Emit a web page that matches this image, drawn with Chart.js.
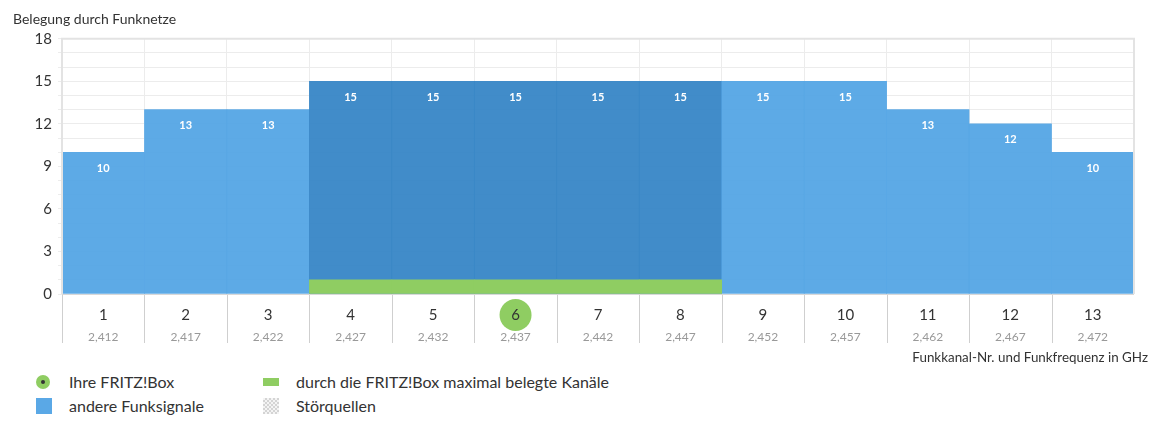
<!DOCTYPE html>
<html>
<head>
<meta charset="utf-8">
<script src="https://cdn.jsdelivr.net/npm/chart.js@4"></script>
<style>
  body { margin: 0; background: #fff; font-family: Lato, "Open Sans", sans-serif; color: #333; }
  #wrap { position: relative; width: 1162px; height: 424px; overflow: hidden; }
  #chartBox { position: absolute; left: 0; top: 0; width: 1162px; height: 360px; }
  #xTitle { position: absolute; right: 14px; top: 349px; font-size: 13.4px; color: #333; }
  .legend { position: absolute; top: 370px; font-size: 16px; color: #333; }
  .legend div { height: 24px; line-height: 24px; position: relative; padding-left: 33px; }
  .legend i { position: absolute; left: 0; }
  .dot { top: 5px; width: 14px; height: 14px; border-radius: 50%; background: #8fcd62; }
  .dot:after { content: ""; position: absolute; left: 5px; top: 5px; width: 4px; height: 4px; border-radius: 50%; background: #333; }
  .sq { top: 4px; width: 16px; height: 16px; background: #5aa8e6; }
  .band { top: 8px; width: 16px; height: 8px; background: #8fcd62; }
  .noise { top: 4px; width: 16px; height: 16px;
    background: repeating-conic-gradient(#d4d4d4 0 25%, #f4f4f4 0 50%) 0 0 / 4px 4px; }
</style>
</head>
<body>
<div id="wrap">
  <div id="chartBox"><canvas id="chart"></canvas></div>
  <div id="xTitle">Funkkanal-Nr. und Funkfrequenz in GHz</div>
  <div class="legend" style="left: 36px;">
    <div><i class="dot"></i>Ihre FRITZ!Box</div>
    <div><i class="sq"></i>andere Funksignale</div>
  </div>
  <div class="legend" style="left: 263px;">
    <div><i class="band"></i>durch die FRITZ!Box maximal belegte Kanäle</div>
    <div><i class="noise"></i>Störquellen</div>
  </div>
</div>
<script>
const channels = ["1", "2", "3", "4", "5", "6", "7", "8", "9", "10", "11", "12", "13"];
const frequencies = ["2,412", "2,417", "2,422", "2,427", "2,432", "2,437", "2,442", "2,447", "2,452", "2,457", "2,462", "2,467", "2,472"];
const otherSignals = [10, 13, 13, 15, 15, 15, 15, 15, 15, 15, 13, 12, 10];
const fritzBand = [null, null, null, 1, 1, 1, 1, 1, null, null, null, null, null];
const fritzChannel = "6";
const yMax = 18;
const yLabelStep = 3;

const LIGHT_BLUE = "rgba(84,165,229,0.95)";
const DARK_BLUE = "rgba(55,134,198,0.95)";
const GREEN = "#8fcd62";
const FONT = "Lato";

const fritzPlugin = {
  id: "fritz",
  beforeDraw(chart) {
    // green circle under the channel label of the FRITZ!Box
    const x = chart.scales.x;
    const ctx = chart.ctx;
    const idx = channels.indexOf(fritzChannel);
    const cx = x.getPixelForValue(idx);
    const cy = x.top + x.options.ticks.padding + x.options.ticks.font.size * 0.6;
    ctx.save();
    ctx.fillStyle = GREEN;
    ctx.beginPath();
    ctx.arc(cx, cy, 16, 0, Math.PI * 2);
    ctx.fill();
    ctx.restore();
  },
  afterDatasetsDraw(chart) {
    const ctx = chart.ctx;
    const meta = chart.getDatasetMeta(1);
    ctx.save();
    ctx.fillStyle = "#fff";
    ctx.font = "bold 11px " + FONT;
    ctx.textAlign = "center";
    ctx.textBaseline = "middle";
    meta.data.forEach((bar, i) => {
      ctx.fillText(otherSignals[i], bar.x, bar.y + 16);
    });
    ctx.restore();
  },
  afterDraw(chart) {
    const ctx = chart.ctx;
    const area = chart.chartArea;
    const x = chart.scales.x;
    const x2 = chart.scales.x2;
    ctx.save();
    // separators between channels below the plot
    ctx.strokeStyle = "#cfcfcf";
    ctx.lineWidth = 1;
    for (let i = 0; i < channels.length; i++) {
      const px = i === 0 ? x.left : (x.getPixelForValue(i - 1) + x.getPixelForValue(i)) / 2;
      ctx.beginPath();
      ctx.moveTo(Math.round(px) + 0.5, area.bottom);
      ctx.lineTo(Math.round(px) + 0.5, x2.bottom);
      ctx.stroke();
    }
    // frame round the plot
    ctx.strokeStyle = "#e3e3e3";
    ctx.lineWidth = 2;
    ctx.beginPath();
    ctx.moveTo(area.left, area.bottom);
    ctx.lineTo(area.left, area.top);
    ctx.lineTo(area.right, area.top);
    ctx.lineTo(area.right, area.bottom);
    ctx.stroke();
    ctx.strokeStyle = "#d8d8d8";
    ctx.lineWidth = 1;
    ctx.beginPath();
    ctx.moveTo(area.left, area.bottom + 0.5);
    ctx.lineTo(area.right, area.bottom + 0.5);
    ctx.stroke();
    ctx.restore();
  },
};

new Chart(document.getElementById("chart"), {
  type: "bar",
  data: {
    labels: channels,
    datasets: [
      {
        label: "durch die FRITZ!Box maximal belegte Kanäle",
        data: fritzBand,
        backgroundColor: GREEN,
        grouped: false,
        order: 0,
        barPercentage: 1,
        categoryPercentage: 1,
      },
      {
        label: "andere Funksignale",
        data: otherSignals,
        backgroundColor: (c) => (fritzBand[c.dataIndex] ? DARK_BLUE : LIGHT_BLUE),
        grouped: false,
        order: 1,
        barPercentage: 1,
        categoryPercentage: 1,
      },
    ],
  },
  plugins: [fritzPlugin],
  options: {
    responsive: true,
    maintainAspectRatio: false,
    animation: false,
    layout: { padding: { left: 13, right: 28, top: 0, bottom: 17 } },
    plugins: {
      legend: { display: false },
      tooltip: { enabled: false },
      title: {
        display: true,
        text: "Belegung durch Funknetze",
        align: "start",
        color: "#333",
        font: { family: FONT, size: 14, weight: "normal" },
        padding: { top: 11, bottom: 11 },
      },
    },
    scales: {
      y: {
        min: 0,
        max: yMax,
        afterFit: (s) => { s.width = 49; },
        border: { display: false },
        grid: { color: "#ececec", tickLength: 4, drawTicks: true },
        ticks: {
          stepSize: 1,
          autoSkip: false,
          padding: 6,
          color: "#333",
          font: { family: FONT, size: 15 },
          callback: (v) => (v % yLabelStep === 0 ? v : ""),
        },
      },
      x: {
        offset: true,
        afterFit: (s) => { s.height = 30; },
        border: { display: false },
        grid: { offset: true, color: "#ececec", drawTicks: false },
        ticks: { padding: 12, color: "#333", font: { family: FONT, size: 15 } },
      },
      x2: {
        type: "category",
        position: "bottom",
        labels: frequencies,
        offset: true,
        afterFit: (s) => { s.height = 19; },
        border: { display: false },
        grid: { display: false, drawTicks: false },
        ticks: { padding: 6, color: "#999", font: { family: FONT, size: 12 } },
      },
    },
  },
});
</script>
</body>
</html>
